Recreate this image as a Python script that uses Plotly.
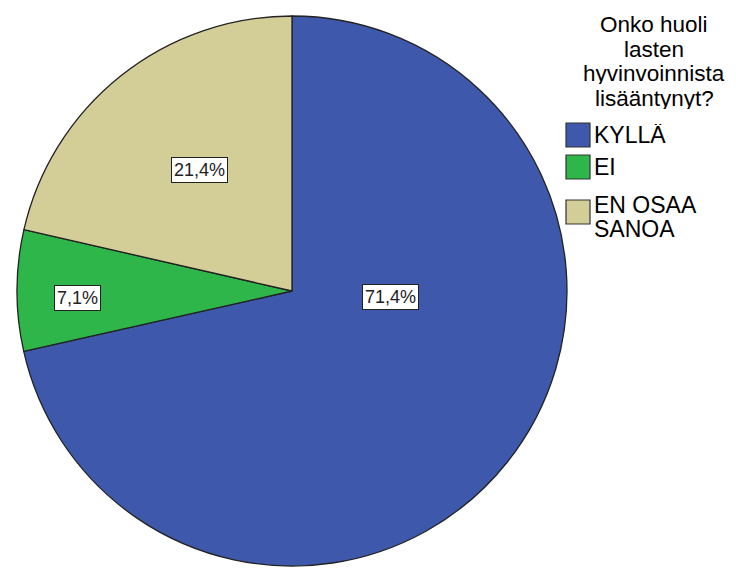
import plotly.graph_objects as go

# ---- data ----
categories = ["KYLLÄ", "EI", "EN OSAA SANOA"]
percentages = [71.4, 7.1, 21.4]
pct_text = ["71,4%", "7,1%", "21,4%"]
legend_title_lines = ["Onko huoli", "lasten", "hyvinvoinnista", "lisääntynyt?"]
legend_item_lines = [["KYLLÄ"], ["EI"], ["EN OSAA", "SANOA"]]

# ---- style / layout ----
W, H = 736, 569
colors = ["#3E58AC", "#2FB64A", "#D3CE97"]
FONT = "Liberation Sans, Arial, sans-serif"


def px(x, y):
    return x / W, 1 - y / H


# pie placement (pixels)
cx, cy, r = 292, 291, 275
dx0, dy1 = px(cx - r, cy - r)
dx1, dy0 = px(cx + r, cy + r)

fig = go.Figure(go.Pie(
    labels=categories,
    values=percentages,
    sort=False,
    direction="clockwise",
    rotation=0,
    marker=dict(colors=colors, line=dict(color="#222222", width=1.3)),
    textinfo="none",
    hoverinfo="label+percent",
    showlegend=False,
    domain=dict(x=[dx0, dx1], y=[max(dy0, 0), dy1]),
))

annotations = []
shapes = []

# percentage labels (boxed), positions in pixels
label_pos = [(390, 297), (77, 298), (199, 170)]
for (lx, ly), t in zip(label_pos, pct_text):
    x, y = px(lx, ly)
    annotations.append(dict(
        x=x, y=y, xref="paper", yref="paper", text=t, showarrow=False,
        font=dict(family=FONT, size=18, color="#222222"),
        bgcolor="white", bordercolor="#222222", borderwidth=1, borderpad=2,
        xanchor="center", yanchor="middle",
    ))

# legend title lines
title_cx = 654
title_y = [24, 48.5, 73, 97.5]
for line, ty in zip(legend_title_lines, title_y):
    x, y = px(title_cx, ty)
    annotations.append(dict(
        x=x, y=y, xref="paper", yref="paper", text=line, showarrow=False,
        font=dict(family=FONT, size=22.5, color="black"), height=22,
        xanchor="center", yanchor="middle",
    ))

# legend items
sq_x0, sq_size = 566, 24
sq_tops = [123, 155, 200]
text_y = [[135], [167], [205, 229]]
for col, top, lines, ys in zip(colors, sq_tops, legend_item_lines, text_y):
    x0, y1 = px(sq_x0, top)
    x1, y0 = px(sq_x0 + sq_size, top + sq_size)
    shapes.append(dict(type="rect", xref="paper", yref="paper",
                       x0=x0, x1=x1, y0=y0, y1=y1,
                       fillcolor=col, line=dict(color="#333333", width=1.2)))
    for txt, ty in zip(lines, ys):
        x, y = px(sq_x0 + sq_size + 2, ty)
        annotations.append(dict(
            x=x, y=y, xref="paper", yref="paper", text=txt, showarrow=False,
            font=dict(family=FONT, size=23, color="black"), height=22,
            xanchor="left", yanchor="middle",
        ))

fig.update_layout(
    width=W, height=H,
    margin=dict(l=0, r=0, t=0, b=0),
    paper_bgcolor="white", plot_bgcolor="white",
    annotations=annotations, shapes=shapes,
    showlegend=False,
)

fig.write_html("out.html")
